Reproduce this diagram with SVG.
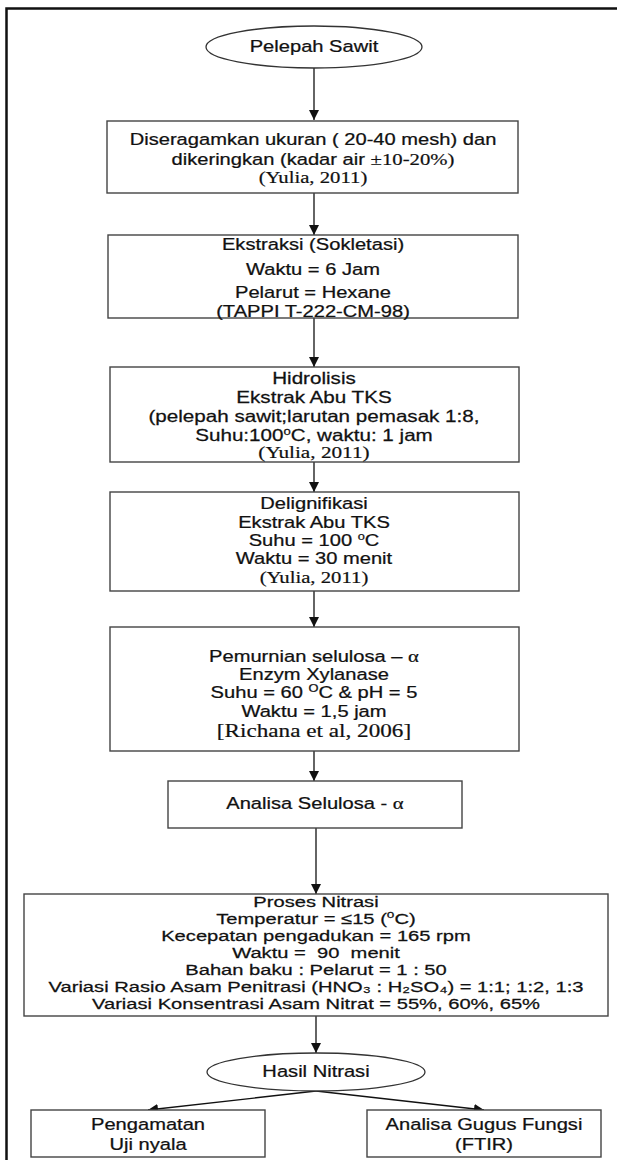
<svg xmlns="http://www.w3.org/2000/svg" width="617" height="1160" viewBox="0 0 617 1160">
<defs>
<marker id="ah" markerWidth="10" markerHeight="10" refX="10" refY="5" orient="auto" markerUnits="userSpaceOnUse">
<path d="M0,0 L10,5 L0,10 z" fill="#111"/>
</marker>
<style>
.box{fill:#fff;stroke:#444;stroke-width:1.4}
.t{font-family:"Liberation Sans",Arial,sans-serif;font-size:16.5px;fill:#111;stroke:#111;stroke-width:0.25;text-anchor:middle}
.s{font-family:"Liberation Serif","Times New Roman",serif;font-size:17px;fill:#111;stroke:#111;stroke-width:0.2;text-anchor:middle}
.c{stroke:#111;stroke-width:1.3;fill:none;marker-end:url(#ah)}
.sup{font-size:10.5px}
</style>
</defs>
<rect x="0" y="0" width="617" height="1160" fill="#fff"/>
<rect x="6.5" y="8.5" width="700" height="1200" fill="none" stroke="#111" stroke-width="2.5"/>

<g id="connectors">
<line class="c" x1="314" y1="68" x2="314" y2="120"/>
<line class="c" x1="314" y1="193" x2="314" y2="235"/>
<line class="c" x1="314" y1="318" x2="314" y2="367"/>
<line class="c" x1="314" y1="462" x2="314" y2="492"/>
<line class="c" x1="314" y1="591" x2="314" y2="627"/>
<line class="c" x1="314" y1="751" x2="314" y2="781"/>
<line class="c" x1="316" y1="828" x2="316" y2="894"/>
<line class="c" x1="316" y1="1016" x2="316" y2="1053"/>
<line class="c" x1="316" y1="1091" x2="148" y2="1110"/>
<line class="c" x1="316" y1="1091" x2="484" y2="1110"/>
</g>

<g id="n1">
<ellipse cx="314" cy="47" rx="108" ry="21" fill="#fff" stroke="#333" stroke-width="1.3"/>
<g transform="translate(314 0) scale(1.22 1)"><text class="t" x="0" y="52">Pelepah Sawit</text></g>
</g>

<g id="n2">
<rect class="box" x="107" y="121" width="411" height="72"/>
<g transform="translate(313 0) scale(1.22 1)">
<text class="t" x="0" y="145">Diseragamkan ukuran ( 20-40 mesh) dan</text>
<text class="t" x="0" y="165">dikeringkan (kadar air <tspan class="s">±10-20%)</tspan></text>
<text class="s" x="0" y="183">(Yulia, 2011)</text>
</g>
</g>

<g id="n3">
<rect class="box" x="108" y="235" width="410" height="83"/>
<g transform="translate(313 0) scale(1.22 1)">
<text class="t" x="0" y="250">Ekstraksi (Sokletasi)</text>
<text class="t" x="0" y="275">Waktu = 6 Jam</text>
<text class="t" x="0" y="298">Pelarut = Hexane</text>
<text class="t" x="0" y="317">(TAPPI T-222-CM-98)</text>
</g>
</g>

<g id="n4">
<rect class="box" x="110" y="367" width="409" height="95"/>
<g transform="translate(314 0) scale(1.25 1)">
<text class="t" x="0" y="384">Hidrolisis</text>
<text class="t" x="0" y="403">Ekstrak Abu TKS</text>
<text class="t" x="0" y="422">(pelepah sawit;larutan pemasak 1:8,</text>
<text class="t" x="0" y="441">Suhu:100<tspan class="sup" dy="-6">o</tspan><tspan dy="6">C, waktu: 1 jam</tspan></text>
<text class="s" x="0" y="458">(Yulia, 2011)</text>
</g>
</g>

<g id="n5">
<rect class="box" x="110" y="492" width="409" height="99"/>
<g transform="translate(314 0) scale(1.22 1)">
<text class="t" x="0" y="509">Delignifikasi</text>
<text class="t" x="0" y="528">Ekstrak Abu TKS</text>
<text class="t" x="0" y="546">Suhu = 100 <tspan class="sup" dy="-6">o</tspan><tspan dy="6">C</tspan></text>
<text class="t" x="0" y="564">Waktu = 30 menit</text>
<text class="s" x="0" y="583">(Yulia, 2011)</text>
</g>
</g>

<g id="n6">
<rect class="box" x="110" y="627" width="409" height="124"/>
<g transform="translate(314 0) scale(1.22 1)">
<text class="t" x="0" y="662">Pemurnian selulosa – <tspan class="s">α</tspan></text>
<text class="t" x="0" y="680">Enzym Xylanase</text>
<text class="t" x="0" y="698">Suhu = 60 <tspan class="sup" dy="-6">O</tspan><tspan dy="6">C &amp; pH = 5</tspan></text>
<text class="t" x="0" y="717">Waktu = 1,5 jam</text>
<text class="s" x="0" y="737" style="font-size:19px">[Richana et al, 2006]</text>
</g>
</g>

<g id="n7">
<rect class="box" x="168" y="781" width="294" height="47"/>
<g transform="translate(315 0) scale(1.22 1)">
<text class="t" x="0" y="809">Analisa Selulosa - <tspan class="s">α</tspan></text>
</g>
</g>

<g id="n8">
<rect class="box" x="24" y="894" width="584" height="122"/>
<g transform="translate(316 0) scale(1.3 1)">
<text class="t" x="0" y="907" style="font-size:15.5px">Proses Nitrasi</text>
<text class="t" x="0" y="924" style="font-size:15.5px">Temperatur = ≤15 (<tspan class="sup" dy="-6">o</tspan><tspan dy="6">C)</tspan></text>
<text class="t" x="0" y="941" style="font-size:15.5px">Kecepatan pengadukan = 165 rpm</text>
<text class="t" x="0" y="958" style="font-size:15.5px">Waktu = &#160;90 &#160;menit</text>
<text class="t" x="0" y="975" style="font-size:15.5px">Bahan baku : Pelarut = 1 : 50</text>
<text class="t" x="0" y="992" style="font-size:15.5px">Variasi Rasio Asam Penitrasi (HNO₃ : H₂SO₄) = 1:1; 1:2, 1:3</text>
<text class="t" x="0" y="1009" style="font-size:15.5px">Variasi Konsentrasi Asam Nitrat = 55%, 60%, 65%</text>
</g>
</g>

<g id="n9">
<ellipse cx="316" cy="1072" rx="109" ry="19" fill="#fff" stroke="#333" stroke-width="1.3"/>
<g transform="translate(316 0) scale(1.22 1)"><text class="t" x="0" y="1077">Hasil Nitrasi</text></g>
</g>

<g id="n10">
<rect class="box" x="31" y="1110" width="234" height="47"/>
<g transform="translate(148 0) scale(1.22 1)">
<text class="t" x="0" y="1130">Pengamatan</text>
<text class="t" x="0" y="1150">Uji nyala</text>
</g>
</g>

<g id="n11">
<rect class="box" x="367" y="1110" width="234" height="47"/>
<g transform="translate(484 0) scale(1.22 1)">
<text class="t" x="0" y="1130">Analisa Gugus Fungsi</text>
<text class="t" x="0" y="1150">(FTIR)</text>
</g>
</g>
</svg>
